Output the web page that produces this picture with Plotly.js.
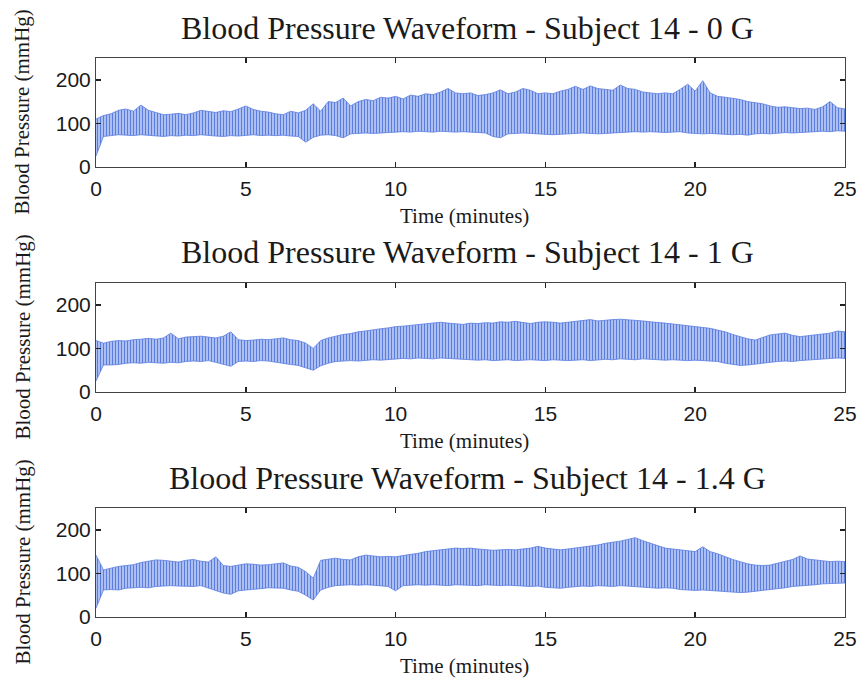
<!DOCTYPE html>
<html>
<head>
<meta charset="utf-8">
<script src="https://cdn.plot.ly/plotly-3.0.1.min.js"></script>
<style>html,body{margin:0;padding:0;background:#fff;}#chart{width:860px;height:679px;}</style>
</head>
<body>
<div id="chart"></div>
<script>
// Time samples (minutes)
const timeMin = [0,0.25,0.5,0.75,1,1.25,1.5,1.75,2,2.25,2.5,2.75,3,3.25,3.5,3.75,4,4.25,4.5,4.75,
5,5.25,5.5,5.75,6,6.25,6.5,6.75,7,7.25,7.5,7.75,8,8.25,8.5,8.75,9,9.25,9.5,9.75,
10,10.25,10.5,10.75,11,11.25,11.5,11.75,12,12.25,12.5,12.75,13,13.25,13.5,13.75,14,14.25,14.5,14.75,
15,15.25,15.5,15.75,16,16.25,16.5,16.75,17,17.25,17.5,17.75,18,18.25,18.5,18.75,19,19.25,19.5,19.75,
20,20.25,20.5,20.75,21,21.25,21.5,21.75,22,22.25,22.5,22.75,23,23.25,23.5,23.75,24,24.25,24.5,24.75,25];

// Subject 14 - 0 G : systolic (upper) and diastolic (lower) envelope, mmHg
const sys0G = [110,118,122,130,133,128,142,130,125,120,121,123,120,124,130,128,125,129,127,133,
140,132,128,126,122,120,128,124,130,145,128,150,148,158,140,150,155,152,160,158,
162,156,165,162,168,166,172,180,170,168,170,164,166,170,177,168,172,180,176,168,
170,168,174,178,185,178,186,180,178,176,188,180,178,172,170,168,170,168,178,190,
174,198,170,162,160,157,155,150,147,145,140,137,138,136,134,135,132,138,150,136,133];
const dia0G = [25,70,72,74,73,72,74,73,71,70,72,71,73,72,74,72,71,70,72,71,
73,74,72,73,72,73,71,70,57,68,73,74,72,67,76,77,78,77,78,79,
80,81,80,82,81,80,82,81,80,81,80,79,78,70,67,76,77,78,77,76,
75,74,75,76,77,78,77,76,77,78,79,80,81,80,81,80,79,80,81,78,
77,76,77,76,75,74,75,73,76,77,76,78,79,78,79,80,81,82,81,83,82];

// Subject 14 - 1 G
const sys1G = [118,112,116,118,117,120,121,123,121,124,135,122,126,127,128,126,124,128,138,120,
118,119,121,120,122,124,120,118,112,100,118,124,128,132,134,138,140,143,145,147,
150,151,153,155,157,158,160,158,156,155,158,157,159,158,161,160,162,159,157,160,
161,160,158,160,162,165,166,163,165,166,167,166,165,163,161,160,158,156,154,152,
150,148,146,142,138,132,127,122,119,125,131,133,135,130,127,129,131,133,135,140,138];
const dia1G = [25,62,62,63,66,67,66,68,67,66,68,67,70,71,70,72,68,64,59,70,
71,70,72,71,68,66,63,61,55,50,60,66,70,71,72,71,73,74,73,74,
76,77,76,78,77,76,78,77,76,75,74,73,74,72,73,74,72,73,74,73,
72,74,73,72,73,74,72,73,75,74,76,75,74,76,75,74,73,74,73,72,
73,72,71,70,66,63,61,62,64,67,69,70,71,70,72,73,75,76,77,78,77];

// Subject 14 - 1.4 G
const sys14G = [142,108,112,116,118,120,125,128,131,130,128,126,130,132,128,126,138,118,116,119,
122,121,119,120,122,124,117,114,104,89,130,133,135,132,131,138,142,140,138,139,
138,141,143,146,150,152,154,155,158,157,158,156,154,153,154,155,154,156,158,162,
158,156,154,156,158,160,162,165,169,171,174,178,182,175,169,163,158,156,154,152,
150,161,150,145,138,132,127,122,119,118,119,123,127,132,140,133,131,129,127,128,127];
const dia14G = [20,62,63,62,66,67,68,67,70,71,72,71,71,70,72,66,60,55,52,60,
62,63,65,67,67,66,62,59,50,39,62,68,72,73,74,73,74,73,72,70,
60,72,73,74,73,74,73,72,74,73,73,72,74,73,72,73,72,71,70,71,
68,67,66,68,70,71,70,72,71,70,72,71,70,69,67,66,67,66,63,62,
61,62,61,60,58,57,56,57,59,61,62,64,67,70,71,72,74,76,77,78,78];

const panelTitles = ["Blood Pressure Waveform - Subject 14 - 0 G",
                     "Blood Pressure Waveform - Subject 14 - 1 G",
                     "Blood Pressure Waveform - Subject 14 - 1.4 G"];
const xTicks = [0,5,10,15,20,25];
const yTicks = [0,100,200];
const xLabel = "Time (minutes)";
const yLabel = "Blood Pressure (mmHg)";

const series = [[sys0G, dia0G],[sys1G, dia1G],[sys14G, dia14G]];

const W = 860, H = 679;
const plotLeft = 96, plotRight = 845;
const panelTops = [58, 283, 508];
const panelBottoms = [167, 392, 617];
const titleY = [28, 252, 478];
const xTitleY = [216, 441, 666];

const serif = "'Liberation Serif', 'Times New Roman', Times, serif";
const lineCol = "#5b7ee0";
const traces = [];
const layout = {
  width: W, height: H,
  margin: {l:0, r:0, t:0, b:0},
  paper_bgcolor: "#fff", plot_bgcolor: "#fff",
  showlegend: false,
  annotations: []
};

series.forEach((s, i) => {
  const n = i === 0 ? "" : String(i + 1);
  const xa = "x" + n, ya = "y" + n;
  traces.push({
    x: timeMin, y: s[1], xaxis: xa, yaxis: ya, type: "scatter", mode: "lines",
    line: {color: lineCol, width: 0.8}, hoverinfo: "skip"
  });
  traces.push({
    x: timeMin, y: s[0], xaxis: xa, yaxis: ya, type: "scatter", mode: "lines",
    line: {color: lineCol, width: 0.8},
    fill: "tonexty", fillcolor: "#a9bbef",
    fillpattern: {shape: "|", fgcolor: "#5a7de0", bgcolor: "#b6c5f2", size: 3, solidity: 0.4},
    hoverinfo: "skip"
  });
  const common = {
    showgrid: false, zeroline: false, showline: true, linecolor: "#444", linewidth: 1,
    mirror: "ticks", ticks: "inside", ticklen: 5, tickwidth: 1.5, tickcolor: "#222",
    tickfont: {family: "'Liberation Sans', Arial, sans-serif", size: 21, color: "#1a1a1a"}
  };
  layout["xaxis" + n] = Object.assign({}, common, {
    domain: [plotLeft / W, plotRight / W], range: [0, 25],
    tickvals: xTicks, ticktext: xTicks.map(String), anchor: ya, ticklabelstandoff: 3
  });
  layout["yaxis" + n] = Object.assign({}, common, {
    domain: [1 - panelBottoms[i] / H, 1 - panelTops[i] / H], range: [0, 250],
    tickvals: yTicks, ticktext: yTicks.map(String), anchor: xa
  });
  layout.annotations.push({
    text: panelTitles[i], xref: "paper", yref: "paper",
    x: 467 / W, y: 1 - titleY[i] / H, xanchor: "center", yanchor: "middle", showarrow: false,
    font: {family: serif, size: 32, color: "#1a1a1a"}
  });
  layout.annotations.push({
    text: xLabel, xref: "paper", yref: "paper",
    x: 464 / W, y: 1 - xTitleY[i] / H, xanchor: "center", yanchor: "middle", showarrow: false,
    font: {family: serif, size: 21, color: "#1a1a1a"}
  });
  layout.annotations.push({
    text: yLabel, xref: "paper", yref: "paper", textangle: -90,
    x: 22 / W, y: 1 - (panelTops[i] + panelBottoms[i]) / 2 / H, xanchor: "center", yanchor: "middle", showarrow: false,
    font: {family: serif, size: 21, color: "#1a1a1a"}
  });
});

Plotly.newPlot("chart", traces, layout, {displayModeBar: false, staticPlot: true});
</script>
</body>
</html>
